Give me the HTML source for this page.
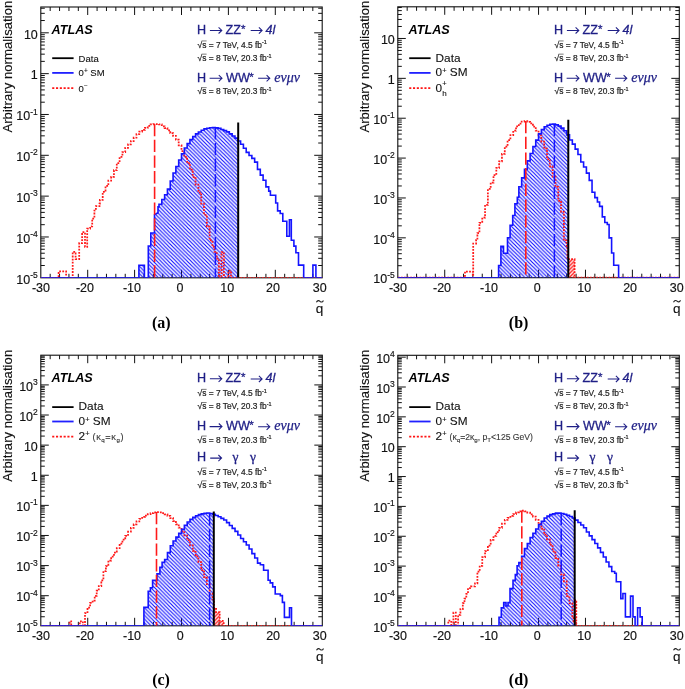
<!DOCTYPE html><html><head><meta charset="utf-8"><style>html,body{margin:0;padding:0;background:#fff;} svg{display:block;filter:blur(0.35px)} text{font-family:"Liberation Sans", sans-serif;} .tl{font-size:12.5px;fill:#111;stroke:#111;stroke-width:0.15px} .sup{font-size:8.5px} .ax{font-size:13.2px;fill:#111;stroke:#111;stroke-width:0.15px} .atlas{font-size:12.6px;font-weight:bold;font-style:italic;fill:#000} .plab{font-family:"Liberation Serif", serif;font-size:16px;font-weight:bold;fill:#000} .proc{font-size:12.6px;fill:#1f1f86;stroke:#1f1f86;stroke-width:0.3px} .lum{font-size:8.4px;fill:#222;stroke:#222;stroke-width:0.2px} .leg{font-size:9.5px;fill:#111;stroke:#111;stroke-width:0.1px} .legs{font-size:6.5px} .legb{font-size:11.8px;fill:#111;stroke:#111;stroke-width:0.12px} .legbs{font-size:7.5px} .lsup{font-size:5.5px} .psup{font-size:8px} .greek{font-family:"Liberation Serif", serif;font-style:italic;font-size:14px;fill:#1f1f86;stroke:#1f1f86;stroke-width:0.25px} .greek2{font-family:"Liberation Serif", serif;font-size:13.5px;fill:#1f1f86;stroke:#1f1f86;stroke-width:0.3px} .small{font-size:9.2px;fill:#444} .ssub{font-size:6.2px}</style></head><body>
<svg width="685" height="689" viewBox="0 0 685 689">
<defs><pattern id="hatchb" patternUnits="userSpaceOnUse" width="3.78" height="3.78" patternTransform="translate(0 2.14)"><path d="M-1 -1L4.78 4.78M-1 2.78L1 4.78M2.78 -1L4.78 1" stroke="#1010ff" stroke-width="1.15"/></pattern><pattern id="hatchr" patternUnits="userSpaceOnUse" width="3.78" height="3.78"><path d="M-1 4.78L4.78 -1M-1 1L1 -1M2.78 4.78L4.78 2.78" stroke="#ff1010" stroke-width="1.3"/></pattern></defs>
<path d="M50.18 277.80v-4M50.18 7.00v4M59.56 277.80v-4M59.56 7.00v4M68.94 277.80v-4M68.94 7.00v4M78.32 277.80v-4M78.32 7.00v4M87.70 277.80v-8M87.70 7.00v8M97.08 277.80v-4M97.08 7.00v4M106.46 277.80v-4M106.46 7.00v4M115.84 277.80v-4M115.84 7.00v4M125.22 277.80v-4M125.22 7.00v4M134.60 277.80v-8M134.60 7.00v8M143.98 277.80v-4M143.98 7.00v4M153.36 277.80v-4M153.36 7.00v4M162.74 277.80v-4M162.74 7.00v4M172.12 277.80v-4M172.12 7.00v4M181.50 277.80v-8M181.50 7.00v8M190.88 277.80v-4M190.88 7.00v4M200.26 277.80v-4M200.26 7.00v4M209.64 277.80v-4M209.64 7.00v4M219.02 277.80v-4M219.02 7.00v4M228.40 277.80v-8M228.40 7.00v8M237.78 277.80v-4M237.78 7.00v4M247.16 277.80v-4M247.16 7.00v4M256.54 277.80v-4M256.54 7.00v4M265.92 277.80v-4M265.92 7.00v4M275.30 277.80v-8M275.30 7.00v8M284.68 277.80v-4M284.68 7.00v4M294.06 277.80v-4M294.06 7.00v4M303.44 277.80v-4M303.44 7.00v4M312.82 277.80v-4M312.82 7.00v4M40.80 265.51h4M322.20 265.51h-4M40.80 258.32h4M322.20 258.32h-4M40.80 253.22h4M322.20 253.22h-4M40.80 249.26h4M322.20 249.26h-4M40.80 246.03h4M322.20 246.03h-4M40.80 243.29h4M322.20 243.29h-4M40.80 240.93h4M322.20 240.93h-4M40.80 238.84h4M322.20 238.84h-4M40.80 236.97h8M322.20 236.97h-8M40.80 224.68h4M322.20 224.68h-4M40.80 217.49h4M322.20 217.49h-4M40.80 212.39h4M322.20 212.39h-4M40.80 208.43h4M322.20 208.43h-4M40.80 205.20h4M322.20 205.20h-4M40.80 202.46h4M322.20 202.46h-4M40.80 200.10h4M322.20 200.10h-4M40.80 198.01h4M322.20 198.01h-4M40.80 196.14h8M322.20 196.14h-8M40.80 183.85h4M322.20 183.85h-4M40.80 176.66h4M322.20 176.66h-4M40.80 171.56h4M322.20 171.56h-4M40.80 167.60h4M322.20 167.60h-4M40.80 164.37h4M322.20 164.37h-4M40.80 161.63h4M322.20 161.63h-4M40.80 159.27h4M322.20 159.27h-4M40.80 157.18h4M322.20 157.18h-4M40.80 155.31h8M322.20 155.31h-8M40.80 143.02h4M322.20 143.02h-4M40.80 135.83h4M322.20 135.83h-4M40.80 130.73h4M322.20 130.73h-4M40.80 126.77h4M322.20 126.77h-4M40.80 123.54h4M322.20 123.54h-4M40.80 120.80h4M322.20 120.80h-4M40.80 118.44h4M322.20 118.44h-4M40.80 116.35h4M322.20 116.35h-4M40.80 114.48h8M322.20 114.48h-8M40.80 102.19h4M322.20 102.19h-4M40.80 95.00h4M322.20 95.00h-4M40.80 89.90h4M322.20 89.90h-4M40.80 85.94h4M322.20 85.94h-4M40.80 82.71h4M322.20 82.71h-4M40.80 79.97h4M322.20 79.97h-4M40.80 77.61h4M322.20 77.61h-4M40.80 75.52h4M322.20 75.52h-4M40.80 73.65h8M322.20 73.65h-8M40.80 61.36h4M322.20 61.36h-4M40.80 54.17h4M322.20 54.17h-4M40.80 49.07h4M322.20 49.07h-4M40.80 45.11h4M322.20 45.11h-4M40.80 41.88h4M322.20 41.88h-4M40.80 39.14h4M322.20 39.14h-4M40.80 36.78h4M322.20 36.78h-4M40.80 34.69h4M322.20 34.69h-4M40.80 32.82h8M322.20 32.82h-8M40.80 20.53h4M322.20 20.53h-4M40.80 13.34h4M322.20 13.34h-4M40.80 8.24h4M322.20 8.24h-4" stroke="#111" stroke-width="1" fill="none"/>
<rect x="40.80" y="7.00" width="281.40" height="270.80" stroke="#111" stroke-width="1.1" fill="none"/>
<text x="41.00" y="292.40" text-anchor="middle" class="tl">-30</text>
<text x="85.00" y="292.40" text-anchor="middle" class="tl">-20</text>
<text x="132.00" y="292.40" text-anchor="middle" class="tl">-10</text>
<text x="180.10" y="292.40" text-anchor="middle" class="tl">0</text>
<text x="227.20" y="292.40" text-anchor="middle" class="tl">10</text>
<text x="273.00" y="292.40" text-anchor="middle" class="tl">20</text>
<text x="319.70" y="292.40" text-anchor="middle" class="tl">30</text>
<text x="37.80" y="283.50" text-anchor="end" class="tl">10<tspan class="sup" dy="-5.6">-5</tspan></text>
<text x="37.80" y="242.67" text-anchor="end" class="tl">10<tspan class="sup" dy="-5.6">-4</tspan></text>
<text x="37.80" y="201.84" text-anchor="end" class="tl">10<tspan class="sup" dy="-5.6">-3</tspan></text>
<text x="37.80" y="161.01" text-anchor="end" class="tl">10<tspan class="sup" dy="-5.6">-2</tspan></text>
<text x="37.80" y="120.18" text-anchor="end" class="tl">10<tspan class="sup" dy="-5.6">-1</tspan></text>
<text x="37.80" y="79.35" text-anchor="end" class="tl">1</text>
<text x="37.80" y="38.52" text-anchor="end" class="tl">10</text>
<clipPath id="cla"><rect x="40.80" y="7.00" width="197.40" height="270.80"/></clipPath>
<clipPath id="cra"><rect x="238.20" y="7.00" width="84.00" height="270.80"/></clipPath>
<clipPath id="cfa"><rect x="40.80" y="7.00" width="281.40" height="270.80"/></clipPath>
<g clip-path="url(#cfa)">
<path d="M40.80 277.80L138.90 277.80L138.90 265.30L144.40 265.30L144.40 277.80L148.30 277.80L148.30 246.00L150.80 246.00L150.80 233.00L154.50 233.00L154.50 214.80L158.00 212.70L158.00 206.90L158.99 206.90L158.99 204.20L161.80 204.20L161.80 199.57L164.62 199.57L164.62 194.68L167.43 194.68L167.43 189.11L170.24 189.11L170.24 181.07L173.06 181.07L173.06 173.01L175.87 173.01L175.87 166.48L178.69 166.48L178.69 159.96L181.50 159.96L181.50 153.69L184.31 153.69L184.31 148.07L187.13 148.07L187.13 143.59L189.94 143.59L189.94 139.66L192.76 139.66L192.76 136.64L195.57 136.64L195.57 133.88L198.38 133.88L198.38 131.96L201.20 131.96L201.20 130.26L204.01 130.26L204.01 128.85L206.83 128.85L206.83 128.28L209.64 128.28L209.64 127.70L212.45 127.70L212.45 127.45L215.27 127.45L215.27 127.84L218.08 127.84L218.08 128.35L220.90 128.35L220.90 129.46L223.71 129.46L223.71 130.65L226.52 130.65L226.52 131.92L229.34 131.92L229.34 133.89L232.15 133.89L232.15 136.00L234.97 136.00L234.97 138.14L237.78 138.14L237.78 141.07L240.59 141.07L240.59 144.22L243.41 144.22L243.41 148.18L246.22 148.18L246.22 152.39L249.04 152.39L249.04 155.55L251.85 155.55L251.85 158.36L254.66 158.36L254.66 162.14L257.48 162.14L257.48 169.37L260.29 169.37L260.29 175.09L263.11 175.09L263.11 180.32L265.92 180.32L265.92 186.84L268.73 186.84L268.73 191.12L270.40 191.12L270.40 192.00L270.40 195.20L275.70 195.20L275.70 203.00L277.60 203.00L277.60 210.90L280.20 210.90L280.20 213.50L282.80 213.50L282.80 221.30L286.80 221.30L286.80 236.30L289.40 236.30L289.40 219.80L291.30 219.80L291.30 240.30L293.90 240.30L293.90 246.10L295.90 246.10L295.90 252.70L298.50 252.70L298.50 265.10L303.70 265.10L303.70 277.80L312.90 277.80L312.90 265.10L315.90 265.10L315.90 277.80L322.20 277.80L322.20 277.80L40.80 277.80Z" fill="url(#hatchb)" clip-path="url(#cla)"/>
<path d="M40.80 277.80L58.60 277.80L58.60 271.40L66.10 271.40L66.10 277.80L72.70 277.80L72.70 251.80L75.60 251.80L75.60 259.10L79.20 259.10L79.20 243.10L82.10 243.10L82.10 232.20L85.00 232.20L85.00 246.80L87.20 246.80L87.20 228.60L90.10 228.60L90.10 226.40L92.20 226.40L92.20 218.50L94.40 218.50L94.40 210.50L95.90 210.50L95.90 206.10L99.50 206.10L99.50 203.50L99.89 203.50L99.89 199.93L102.71 199.93L102.71 191.95L105.52 191.95L105.52 185.98L108.34 185.98L108.34 180.66L111.15 180.66L111.15 176.87L113.96 176.87L113.96 170.23L116.78 170.23L116.78 163.02L119.59 163.02L119.59 156.87L122.41 156.87L122.41 152.03L125.22 152.03L125.22 147.81L128.03 147.81L128.03 144.25L130.85 144.25L130.85 141.10L133.66 141.10L133.66 137.73L136.48 137.73L136.48 134.18L139.29 134.18L139.29 131.55L142.10 131.55L142.10 129.83L144.92 129.83L144.92 127.95L147.73 127.95L147.73 125.81L150.55 125.81L150.55 124.29L153.36 124.29L153.36 124.00L156.17 124.00L158.99 124.00L158.99 124.45L161.80 124.45L161.80 126.25L164.62 126.25L164.62 128.05L167.43 128.05L167.43 130.32L170.24 130.32L170.24 133.10L173.06 133.10L173.06 135.89L175.87 135.89L175.87 139.68L178.69 139.68L178.69 145.36L181.50 145.36L181.50 151.06L184.31 151.06L184.31 156.90L187.13 156.90L187.13 163.15L189.94 163.15L189.94 169.58L192.76 169.58L192.76 177.00L195.57 177.00L195.57 184.60L198.38 184.60L198.38 192.54L201.20 192.54L201.20 203.53L204.01 203.53L204.01 214.77L206.83 214.77L206.83 226.71L209.64 226.71L209.64 240.43L212.45 240.43L212.45 246.91L214.50 246.91L214.50 248.10L214.50 251.80L216.70 251.80L216.70 258.60L218.90 258.60L218.90 277.80L221.50 277.80L221.50 252.00L223.90 252.00L223.90 277.80L228.50 277.80L228.50 270.80L231.00 270.80L231.00 277.80L322.20 277.80L322.20 277.80L40.80 277.80Z" fill="url(#hatchr)" clip-path="url(#cra)"/>
<path d="M40.80 277.80L58.60 277.80L58.60 271.40L66.10 271.40L66.10 277.80L72.70 277.80L72.70 251.80L75.60 251.80L75.60 259.10L79.20 259.10L79.20 243.10L82.10 243.10L82.10 232.20L85.00 232.20L85.00 246.80L87.20 246.80L87.20 228.60L90.10 228.60L90.10 226.40L92.20 226.40L92.20 218.50L94.40 218.50L94.40 210.50L95.90 210.50L95.90 206.10L99.50 206.10L99.50 203.50L99.89 203.50L99.89 199.93L102.71 199.93L102.71 191.95L105.52 191.95L105.52 185.98L108.34 185.98L108.34 180.66L111.15 180.66L111.15 176.87L113.96 176.87L113.96 170.23L116.78 170.23L116.78 163.02L119.59 163.02L119.59 156.87L122.41 156.87L122.41 152.03L125.22 152.03L125.22 147.81L128.03 147.81L128.03 144.25L130.85 144.25L130.85 141.10L133.66 141.10L133.66 137.73L136.48 137.73L136.48 134.18L139.29 134.18L139.29 131.55L142.10 131.55L142.10 129.83L144.92 129.83L144.92 127.95L147.73 127.95L147.73 125.81L150.55 125.81L150.55 124.29L153.36 124.29L153.36 124.00L156.17 124.00L158.99 124.00L158.99 124.45L161.80 124.45L161.80 126.25L164.62 126.25L164.62 128.05L167.43 128.05L167.43 130.32L170.24 130.32L170.24 133.10L173.06 133.10L173.06 135.89L175.87 135.89L175.87 139.68L178.69 139.68L178.69 145.36L181.50 145.36L181.50 151.06L184.31 151.06L184.31 156.90L187.13 156.90L187.13 163.15L189.94 163.15L189.94 169.58L192.76 169.58L192.76 177.00L195.57 177.00L195.57 184.60L198.38 184.60L198.38 192.54L201.20 192.54L201.20 203.53L204.01 203.53L204.01 214.77L206.83 214.77L206.83 226.71L209.64 226.71L209.64 240.43L212.45 240.43L212.45 246.91L214.50 246.91L214.50 248.10L214.50 251.80L216.70 251.80L216.70 258.60L218.90 258.60L218.90 277.80L221.50 277.80L221.50 252.00L223.90 252.00L223.90 277.80L228.50 277.80L228.50 270.80L231.00 270.80L231.00 277.80L322.20 277.80" fill="none" stroke="#ff1a1a" stroke-width="1.75" stroke-dasharray="1.8 1.3"/>
<path d="M40.80 277.80L138.90 277.80L138.90 265.30L144.40 265.30L144.40 277.80L148.30 277.80L148.30 246.00L150.80 246.00L150.80 233.00L154.50 233.00L154.50 214.80L158.00 212.70L158.00 206.90L158.99 206.90L158.99 204.20L161.80 204.20L161.80 199.57L164.62 199.57L164.62 194.68L167.43 194.68L167.43 189.11L170.24 189.11L170.24 181.07L173.06 181.07L173.06 173.01L175.87 173.01L175.87 166.48L178.69 166.48L178.69 159.96L181.50 159.96L181.50 153.69L184.31 153.69L184.31 148.07L187.13 148.07L187.13 143.59L189.94 143.59L189.94 139.66L192.76 139.66L192.76 136.64L195.57 136.64L195.57 133.88L198.38 133.88L198.38 131.96L201.20 131.96L201.20 130.26L204.01 130.26L204.01 128.85L206.83 128.85L206.83 128.28L209.64 128.28L209.64 127.70L212.45 127.70L212.45 127.45L215.27 127.45L215.27 127.84L218.08 127.84L218.08 128.35L220.90 128.35L220.90 129.46L223.71 129.46L223.71 130.65L226.52 130.65L226.52 131.92L229.34 131.92L229.34 133.89L232.15 133.89L232.15 136.00L234.97 136.00L234.97 138.14L237.78 138.14L237.78 141.07L240.59 141.07L240.59 144.22L243.41 144.22L243.41 148.18L246.22 148.18L246.22 152.39L249.04 152.39L249.04 155.55L251.85 155.55L251.85 158.36L254.66 158.36L254.66 162.14L257.48 162.14L257.48 169.37L260.29 169.37L260.29 175.09L263.11 175.09L263.11 180.32L265.92 180.32L265.92 186.84L268.73 186.84L268.73 191.12L270.40 191.12L270.40 192.00L270.40 195.20L275.70 195.20L275.70 203.00L277.60 203.00L277.60 210.90L280.20 210.90L280.20 213.50L282.80 213.50L282.80 221.30L286.80 221.30L286.80 236.30L289.40 236.30L289.40 219.80L291.30 219.80L291.30 240.30L293.90 240.30L293.90 246.10L295.90 246.10L295.90 252.70L298.50 252.70L298.50 265.10L303.70 265.10L303.70 277.80L312.90 277.80L312.90 265.10L315.90 265.10L315.90 277.80L322.20 277.80" fill="none" stroke="#1414ff" stroke-width="1.6" stroke-linejoin="miter"/>
<path d="M154.60 124.00V277.80" stroke="#ff1a1a" stroke-width="1.6" stroke-dasharray="12.3 3.4"/>
<path d="M215.40 127.20V277.80" stroke="#1414ff" stroke-width="1.5" stroke-dasharray="12.3 3.4"/>
<path d="M238.20 277.80V122.40" stroke="#000" stroke-width="2"/>
</g>
<text class="plab" x="152.0" y="328.2">(a)</text>
<text class="ax" transform="translate(12.10 132.60) rotate(-90)">Arbitrary normalisation</text>
<text class="ax" x="319.60" y="312.60" text-anchor="middle" style="font-size:13.5px">q</text>
<path d="M316.40 302.30C317.60 300.10 319.00 300.40 320.00 301.30S322.40 302.60 323.40 300.40" stroke="#222" stroke-width="1.1" fill="none"/>
<text class="atlas" x="51.60" y="33.80">ATLAS</text>
<text x="197.00" y="33.80" class="proc">H</text>
<path d="M209.90 30.40H221.80M218.60 27.30L221.80 30.40L218.60 33.50" stroke="#1f1f86" stroke-width="1.05" fill="none"/>
<text x="225.60" y="33.80" class="proc">ZZ</text>
<text x="240.90" y="32.60" class="proc" style="font-size:11.5px">*</text>
<path d="M250.70 30.50H262.10M258.90 27.40L262.10 30.50L258.90 33.60" stroke="#1f1f86" stroke-width="1.05" fill="none"/>
<text x="265.60" y="33.80" class="proc" style="font-style:italic">4l</text>
<text x="197.60" y="47.70" class="lum">√s = 7 TeV, 4.5 fb<tspan class="lsup" dy="-3.4">-1</tspan></text><path d="M201.60 40.95h5.0" stroke="#333" stroke-width="0.65"/>
<text x="197.60" y="60.90" class="lum">√s = 8 TeV, 20.3 fb<tspan class="lsup" dy="-3.4">-1</tspan></text><path d="M201.60 54.15h5.0" stroke="#333" stroke-width="0.65"/>
<text x="197.00" y="81.50" class="proc">H</text>
<path d="M209.60 78.20H222.00M218.80 75.10L222.00 78.20L218.80 81.30" stroke="#1f1f86" stroke-width="1.05" fill="none"/>
<text x="226.00" y="81.50" class="proc">WW</text>
<text x="249.20" y="80.60" class="proc" style="font-size:11.5px">*</text>
<path d="M258.10 78.30H269.80M266.60 75.20L269.80 78.30L266.60 81.40" stroke="#1f1f86" stroke-width="1.05" fill="none"/>
<text x="274.30" y="81.50" class="greek">eνμν</text>
<text x="197.60" y="94.40" class="lum">√s = 8 TeV, 20.3 fb<tspan class="lsup" dy="-3.4">-1</tspan></text><path d="M201.60 87.65h5.0" stroke="#333" stroke-width="0.65"/>
<path d="M52.2 58.20H73.6" stroke="#000" stroke-width="1.8"/>
<path d="M52.2 72.90H73.6" stroke="#2020ff" stroke-width="1.8"/>
<path d="M52.2 88.20H73.6" stroke="#ff1414" stroke-width="1.7" stroke-dasharray="2.1 1.7"/>
<text x="78.60" y="61.90" class="leg">Data</text>
<text x="78.60" y="76.40" class="leg">0<tspan class="legs" dy="-3.5">+</tspan><tspan dy="3.5"> SM</tspan></text>
<text x="78.60" y="91.60" class="leg">0<tspan class="legs" dy="-3.5">−</tspan></text>
<path d="M407.18 277.70v-4M407.18 6.80v4M416.57 277.70v-4M416.57 6.80v4M425.95 277.70v-4M425.95 6.80v4M435.33 277.70v-4M435.33 6.80v4M444.72 277.70v-8M444.72 6.80v8M454.10 277.70v-4M454.10 6.80v4M463.48 277.70v-4M463.48 6.80v4M472.87 277.70v-4M472.87 6.80v4M482.25 277.70v-4M482.25 6.80v4M491.63 277.70v-8M491.63 6.80v8M501.02 277.70v-4M501.02 6.80v4M510.40 277.70v-4M510.40 6.80v4M519.78 277.70v-4M519.78 6.80v4M529.17 277.70v-4M529.17 6.80v4M538.55 277.70v-8M538.55 6.80v8M547.93 277.70v-4M547.93 6.80v4M557.32 277.70v-4M557.32 6.80v4M566.70 277.70v-4M566.70 6.80v4M576.08 277.70v-4M576.08 6.80v4M585.47 277.70v-8M585.47 6.80v8M594.85 277.70v-4M594.85 6.80v4M604.23 277.70v-4M604.23 6.80v4M613.62 277.70v-4M613.62 6.80v4M623.00 277.70v-4M623.00 6.80v4M632.38 277.70v-8M632.38 6.80v8M641.77 277.70v-4M641.77 6.80v4M651.15 277.70v-4M651.15 6.80v4M660.53 277.70v-4M660.53 6.80v4M669.92 277.70v-4M669.92 6.80v4M397.80 265.70h4M679.30 265.70h-4M397.80 258.68h4M679.30 258.68h-4M397.80 253.70h4M679.30 253.70h-4M397.80 249.83h4M679.30 249.83h-4M397.80 246.68h4M679.30 246.68h-4M397.80 244.01h4M679.30 244.01h-4M397.80 241.69h4M679.30 241.69h-4M397.80 239.65h4M679.30 239.65h-4M397.80 237.83h8M679.30 237.83h-8M397.80 225.83h4M679.30 225.83h-4M397.80 218.81h4M679.30 218.81h-4M397.80 213.83h4M679.30 213.83h-4M397.80 209.96h4M679.30 209.96h-4M397.80 206.81h4M679.30 206.81h-4M397.80 204.14h4M679.30 204.14h-4M397.80 201.82h4M679.30 201.82h-4M397.80 199.78h4M679.30 199.78h-4M397.80 197.96h8M679.30 197.96h-8M397.80 185.96h4M679.30 185.96h-4M397.80 178.94h4M679.30 178.94h-4M397.80 173.96h4M679.30 173.96h-4M397.80 170.09h4M679.30 170.09h-4M397.80 166.94h4M679.30 166.94h-4M397.80 164.27h4M679.30 164.27h-4M397.80 161.95h4M679.30 161.95h-4M397.80 159.91h4M679.30 159.91h-4M397.80 158.09h8M679.30 158.09h-8M397.80 146.09h4M679.30 146.09h-4M397.80 139.07h4M679.30 139.07h-4M397.80 134.09h4M679.30 134.09h-4M397.80 130.22h4M679.30 130.22h-4M397.80 127.07h4M679.30 127.07h-4M397.80 124.40h4M679.30 124.40h-4M397.80 122.08h4M679.30 122.08h-4M397.80 120.04h4M679.30 120.04h-4M397.80 118.22h8M679.30 118.22h-8M397.80 106.22h4M679.30 106.22h-4M397.80 99.20h4M679.30 99.20h-4M397.80 94.22h4M679.30 94.22h-4M397.80 90.35h4M679.30 90.35h-4M397.80 87.20h4M679.30 87.20h-4M397.80 84.53h4M679.30 84.53h-4M397.80 82.21h4M679.30 82.21h-4M397.80 80.17h4M679.30 80.17h-4M397.80 78.35h8M679.30 78.35h-8M397.80 66.35h4M679.30 66.35h-4M397.80 59.33h4M679.30 59.33h-4M397.80 54.35h4M679.30 54.35h-4M397.80 50.48h4M679.30 50.48h-4M397.80 47.33h4M679.30 47.33h-4M397.80 44.66h4M679.30 44.66h-4M397.80 42.34h4M679.30 42.34h-4M397.80 40.30h4M679.30 40.30h-4M397.80 38.48h8M679.30 38.48h-8M397.80 26.48h4M679.30 26.48h-4M397.80 19.46h4M679.30 19.46h-4M397.80 14.48h4M679.30 14.48h-4M397.80 10.61h4M679.30 10.61h-4M397.80 7.46h4M679.30 7.46h-4" stroke="#111" stroke-width="1" fill="none"/>
<rect x="397.80" y="6.80" width="281.50" height="270.90" stroke="#111" stroke-width="1.1" fill="none"/>
<text x="398.00" y="292.30" text-anchor="middle" class="tl">-30</text>
<text x="442.02" y="292.30" text-anchor="middle" class="tl">-20</text>
<text x="489.03" y="292.30" text-anchor="middle" class="tl">-10</text>
<text x="537.15" y="292.30" text-anchor="middle" class="tl">0</text>
<text x="584.27" y="292.30" text-anchor="middle" class="tl">10</text>
<text x="630.08" y="292.30" text-anchor="middle" class="tl">20</text>
<text x="676.80" y="292.30" text-anchor="middle" class="tl">30</text>
<text x="394.80" y="283.40" text-anchor="end" class="tl">10<tspan class="sup" dy="-5.6">-5</tspan></text>
<text x="394.80" y="243.53" text-anchor="end" class="tl">10<tspan class="sup" dy="-5.6">-4</tspan></text>
<text x="394.80" y="203.66" text-anchor="end" class="tl">10<tspan class="sup" dy="-5.6">-3</tspan></text>
<text x="394.80" y="163.79" text-anchor="end" class="tl">10<tspan class="sup" dy="-5.6">-2</tspan></text>
<text x="394.80" y="123.92" text-anchor="end" class="tl">10<tspan class="sup" dy="-5.6">-1</tspan></text>
<text x="394.80" y="84.05" text-anchor="end" class="tl">1</text>
<text x="394.80" y="44.18" text-anchor="end" class="tl">10</text>
<clipPath id="clb"><rect x="397.80" y="6.80" width="170.50" height="270.90"/></clipPath>
<clipPath id="crb"><rect x="568.30" y="6.80" width="111.00" height="270.90"/></clipPath>
<clipPath id="cfb"><rect x="397.80" y="6.80" width="281.50" height="270.90"/></clipPath>
<g clip-path="url(#cfb)">
<path d="M397.80 277.70L498.60 277.70L498.60 265.50L500.90 265.50L500.90 246.40L503.50 246.40L503.50 253.30L507.50 253.30L507.50 237.70L510.10 237.70L510.10 225.30L512.70 225.30L512.70 215.50L514.90 215.50L514.90 203.70L517.30 203.70L517.30 197.20L518.85 197.20L518.85 186.81L521.66 186.81L521.66 177.85L524.48 177.85L524.48 169.37L527.29 169.37L527.29 160.91L530.11 160.91L530.11 153.54L532.92 153.54L532.92 146.47L535.74 146.47L535.74 140.15L538.55 140.15L538.55 133.83L541.37 133.83L541.37 129.62L544.18 129.62L544.18 126.72L547.00 126.72L547.00 125.23L549.81 125.23L549.81 124.21L552.63 124.21L552.63 124.13L555.44 124.13L555.44 124.88L558.26 124.88L558.26 126.15L561.07 126.15L561.07 128.13L563.89 128.13L563.89 130.80L566.70 130.80L566.70 134.89L569.52 134.89L569.52 140.03L572.33 140.03L572.33 144.14L575.15 144.14L575.15 149.11L577.96 149.11L577.96 154.43L580.78 154.43L580.78 162.07L583.59 162.07L583.59 167.01L586.41 167.01L586.41 173.08L589.22 173.08L589.22 180.34L592.04 180.34L592.04 192.28L594.85 192.28L594.85 197.66L597.40 197.66L597.40 201.00L597.40 202.00L599.60 202.00L599.60 206.40L602.30 206.40L602.30 216.90L604.80 216.90L604.80 222.50L607.30 222.50L607.30 224.50L609.10 224.50L609.10 237.90L611.60 237.90L611.60 253.00L613.70 253.00L613.70 265.30L618.60 265.30L618.60 277.70L679.30 277.70L679.30 277.70L397.80 277.70Z" fill="url(#hatchb)" clip-path="url(#clb)"/>
<path d="M397.80 277.70L465.00 277.70L465.00 271.50L472.80 271.50L472.80 277.70L473.20 277.70L473.20 243.60L476.10 243.60L476.10 240.00L477.40 240.00L477.40 233.10L479.44 233.10L479.44 222.75L482.25 222.75L482.25 217.73L485.06 217.73L485.06 204.91L487.88 204.91L487.88 188.95L490.69 188.95L490.69 182.62L493.51 182.62L493.51 175.11L496.32 175.11L496.32 167.98L499.14 167.98L499.14 161.45L501.95 161.45L501.95 153.86L504.77 153.86L504.77 146.67L507.58 146.67L507.58 140.14L510.40 140.14L510.40 135.21L513.22 135.21L513.22 130.67L516.03 130.67L516.03 126.44L518.85 126.44L518.85 123.62L521.66 123.62L521.66 121.61L524.48 121.61L524.48 121.09L527.29 121.09L527.29 121.80L530.11 121.80L530.11 123.35L532.92 123.35L532.92 126.61L535.74 126.61L535.74 130.59L538.55 130.59L538.55 135.26L541.37 135.26L541.37 141.51L544.18 141.51L544.18 148.58L547.00 148.58L547.00 159.15L549.81 159.15L549.81 166.36L552.63 166.36L552.63 176.73L555.44 176.73L555.44 186.95L558.26 186.95L558.26 200.81L561.07 200.81L561.07 211.85L563.89 211.85L563.89 240.49L566.70 240.49L566.70 248.15L567.40 248.15L567.40 252.70L567.40 259.20L574.60 259.20L574.60 277.70L679.30 277.70L679.30 277.70L397.80 277.70Z" fill="url(#hatchr)" clip-path="url(#crb)"/>
<path d="M397.80 277.70L465.00 277.70L465.00 271.50L472.80 271.50L472.80 277.70L473.20 277.70L473.20 243.60L476.10 243.60L476.10 240.00L477.40 240.00L477.40 233.10L479.44 233.10L479.44 222.75L482.25 222.75L482.25 217.73L485.06 217.73L485.06 204.91L487.88 204.91L487.88 188.95L490.69 188.95L490.69 182.62L493.51 182.62L493.51 175.11L496.32 175.11L496.32 167.98L499.14 167.98L499.14 161.45L501.95 161.45L501.95 153.86L504.77 153.86L504.77 146.67L507.58 146.67L507.58 140.14L510.40 140.14L510.40 135.21L513.22 135.21L513.22 130.67L516.03 130.67L516.03 126.44L518.85 126.44L518.85 123.62L521.66 123.62L521.66 121.61L524.48 121.61L524.48 121.09L527.29 121.09L527.29 121.80L530.11 121.80L530.11 123.35L532.92 123.35L532.92 126.61L535.74 126.61L535.74 130.59L538.55 130.59L538.55 135.26L541.37 135.26L541.37 141.51L544.18 141.51L544.18 148.58L547.00 148.58L547.00 159.15L549.81 159.15L549.81 166.36L552.63 166.36L552.63 176.73L555.44 176.73L555.44 186.95L558.26 186.95L558.26 200.81L561.07 200.81L561.07 211.85L563.89 211.85L563.89 240.49L566.70 240.49L566.70 248.15L567.40 248.15L567.40 252.70L567.40 259.20L574.60 259.20L574.60 277.70L679.30 277.70" fill="none" stroke="#ff1a1a" stroke-width="1.75" stroke-dasharray="1.8 1.3"/>
<path d="M397.80 277.70L498.60 277.70L498.60 265.50L500.90 265.50L500.90 246.40L503.50 246.40L503.50 253.30L507.50 253.30L507.50 237.70L510.10 237.70L510.10 225.30L512.70 225.30L512.70 215.50L514.90 215.50L514.90 203.70L517.30 203.70L517.30 197.20L518.85 197.20L518.85 186.81L521.66 186.81L521.66 177.85L524.48 177.85L524.48 169.37L527.29 169.37L527.29 160.91L530.11 160.91L530.11 153.54L532.92 153.54L532.92 146.47L535.74 146.47L535.74 140.15L538.55 140.15L538.55 133.83L541.37 133.83L541.37 129.62L544.18 129.62L544.18 126.72L547.00 126.72L547.00 125.23L549.81 125.23L549.81 124.21L552.63 124.21L552.63 124.13L555.44 124.13L555.44 124.88L558.26 124.88L558.26 126.15L561.07 126.15L561.07 128.13L563.89 128.13L563.89 130.80L566.70 130.80L566.70 134.89L569.52 134.89L569.52 140.03L572.33 140.03L572.33 144.14L575.15 144.14L575.15 149.11L577.96 149.11L577.96 154.43L580.78 154.43L580.78 162.07L583.59 162.07L583.59 167.01L586.41 167.01L586.41 173.08L589.22 173.08L589.22 180.34L592.04 180.34L592.04 192.28L594.85 192.28L594.85 197.66L597.40 197.66L597.40 201.00L597.40 202.00L599.60 202.00L599.60 206.40L602.30 206.40L602.30 216.90L604.80 216.90L604.80 222.50L607.30 222.50L607.30 224.50L609.10 224.50L609.10 237.90L611.60 237.90L611.60 253.00L613.70 253.00L613.70 265.30L618.60 265.30L618.60 277.70L679.30 277.70" fill="none" stroke="#1414ff" stroke-width="1.6" stroke-linejoin="miter"/>
<path d="M525.80 121.00V277.70" stroke="#ff1a1a" stroke-width="1.6" stroke-dasharray="12.3 3.4"/>
<path d="M554.40 124.00V277.70" stroke="#1414ff" stroke-width="1.5" stroke-dasharray="12.3 3.4"/>
<path d="M568.30 277.70V119.80" stroke="#000" stroke-width="2"/>
</g>
<text class="plab" x="508.8" y="328.4">(b)</text>
<text class="ax" transform="translate(369.10 132.60) rotate(-90)">Arbitrary normalisation</text>
<text class="ax" x="676.70" y="312.50" text-anchor="middle" style="font-size:13.5px">q</text>
<path d="M673.50 302.20C674.70 300.00 676.10 300.30 677.10 301.20S679.50 302.50 680.50 300.30" stroke="#222" stroke-width="1.1" fill="none"/>
<text class="atlas" x="408.60" y="33.80">ATLAS</text>
<text x="554.00" y="33.80" class="proc">H</text>
<path d="M566.90 30.40H578.80M575.60 27.30L578.80 30.40L575.60 33.50" stroke="#1f1f86" stroke-width="1.05" fill="none"/>
<text x="582.60" y="33.80" class="proc">ZZ</text>
<text x="597.90" y="32.60" class="proc" style="font-size:11.5px">*</text>
<path d="M607.70 30.50H619.10M615.90 27.40L619.10 30.50L615.90 33.60" stroke="#1f1f86" stroke-width="1.05" fill="none"/>
<text x="622.60" y="33.80" class="proc" style="font-style:italic">4l</text>
<text x="554.60" y="47.70" class="lum">√s = 7 TeV, 4.5 fb<tspan class="lsup" dy="-3.4">-1</tspan></text><path d="M558.60 40.95h5.0" stroke="#333" stroke-width="0.65"/>
<text x="554.60" y="60.90" class="lum">√s = 8 TeV, 20.3 fb<tspan class="lsup" dy="-3.4">-1</tspan></text><path d="M558.60 54.15h5.0" stroke="#333" stroke-width="0.65"/>
<text x="554.00" y="81.50" class="proc">H</text>
<path d="M566.60 78.20H579.00M575.80 75.10L579.00 78.20L575.80 81.30" stroke="#1f1f86" stroke-width="1.05" fill="none"/>
<text x="583.00" y="81.50" class="proc">WW</text>
<text x="606.20" y="80.60" class="proc" style="font-size:11.5px">*</text>
<path d="M615.10 78.30H626.80M623.60 75.20L626.80 78.30L623.60 81.40" stroke="#1f1f86" stroke-width="1.05" fill="none"/>
<text x="631.30" y="81.50" class="greek">eνμν</text>
<text x="554.60" y="94.40" class="lum">√s = 8 TeV, 20.3 fb<tspan class="lsup" dy="-3.4">-1</tspan></text><path d="M558.60 87.65h5.0" stroke="#333" stroke-width="0.65"/>
<path d="M409.2 58.20H430.6" stroke="#000" stroke-width="1.8"/>
<path d="M409.2 72.90H430.6" stroke="#2020ff" stroke-width="1.8"/>
<path d="M409.2 88.20H430.6" stroke="#ff1414" stroke-width="1.7" stroke-dasharray="2.1 1.7"/>
<text x="435.60" y="61.90" class="legb">Data</text>
<text x="435.60" y="76.40" class="legb">0<tspan class="legbs" dy="-3.5">+</tspan><tspan dy="3.5"> SM</tspan></text>
<text x="435.60" y="91.60" class="legb">0<tspan class="legbs" dy="-5.2">+</tspan><tspan style="font-size:8px" dx="-4.3" dy="9.6">h</tspan></text>
<path d="M50.18 625.80v-4M50.18 355.20v4M59.57 625.80v-4M59.57 355.20v4M68.95 625.80v-4M68.95 355.20v4M78.33 625.80v-4M78.33 355.20v4M87.72 625.80v-8M87.72 355.20v8M97.10 625.80v-4M97.10 355.20v4M106.48 625.80v-4M106.48 355.20v4M115.87 625.80v-4M115.87 355.20v4M125.25 625.80v-4M125.25 355.20v4M134.63 625.80v-8M134.63 355.20v8M144.02 625.80v-4M144.02 355.20v4M153.40 625.80v-4M153.40 355.20v4M162.78 625.80v-4M162.78 355.20v4M172.17 625.80v-4M172.17 355.20v4M181.55 625.80v-8M181.55 355.20v8M190.93 625.80v-4M190.93 355.20v4M200.32 625.80v-4M200.32 355.20v4M209.70 625.80v-4M209.70 355.20v4M219.08 625.80v-4M219.08 355.20v4M228.47 625.80v-8M228.47 355.20v8M237.85 625.80v-4M237.85 355.20v4M247.23 625.80v-4M247.23 355.20v4M256.62 625.80v-4M256.62 355.20v4M266.00 625.80v-4M266.00 355.20v4M275.38 625.80v-8M275.38 355.20v8M284.77 625.80v-4M284.77 355.20v4M294.15 625.80v-4M294.15 355.20v4M303.53 625.80v-4M303.53 355.20v4M312.92 625.80v-4M312.92 355.20v4M40.80 616.74h4M322.30 616.74h-4M40.80 611.43h4M322.30 611.43h-4M40.80 607.67h4M322.30 607.67h-4M40.80 604.75h4M322.30 604.75h-4M40.80 602.37h4M322.30 602.37h-4M40.80 600.35h4M322.30 600.35h-4M40.80 598.61h4M322.30 598.61h-4M40.80 597.07h4M322.30 597.07h-4M40.80 595.69h8M322.30 595.69h-8M40.80 586.63h4M322.30 586.63h-4M40.80 581.32h4M322.30 581.32h-4M40.80 577.56h4M322.30 577.56h-4M40.80 574.64h4M322.30 574.64h-4M40.80 572.26h4M322.30 572.26h-4M40.80 570.24h4M322.30 570.24h-4M40.80 568.50h4M322.30 568.50h-4M40.80 566.96h4M322.30 566.96h-4M40.80 565.58h8M322.30 565.58h-8M40.80 556.52h4M322.30 556.52h-4M40.80 551.21h4M322.30 551.21h-4M40.80 547.45h4M322.30 547.45h-4M40.80 544.53h4M322.30 544.53h-4M40.80 542.15h4M322.30 542.15h-4M40.80 540.13h4M322.30 540.13h-4M40.80 538.39h4M322.30 538.39h-4M40.80 536.85h4M322.30 536.85h-4M40.80 535.47h8M322.30 535.47h-8M40.80 526.41h4M322.30 526.41h-4M40.80 521.10h4M322.30 521.10h-4M40.80 517.34h4M322.30 517.34h-4M40.80 514.42h4M322.30 514.42h-4M40.80 512.04h4M322.30 512.04h-4M40.80 510.02h4M322.30 510.02h-4M40.80 508.28h4M322.30 508.28h-4M40.80 506.74h4M322.30 506.74h-4M40.80 505.36h8M322.30 505.36h-8M40.80 496.30h4M322.30 496.30h-4M40.80 490.99h4M322.30 490.99h-4M40.80 487.23h4M322.30 487.23h-4M40.80 484.31h4M322.30 484.31h-4M40.80 481.93h4M322.30 481.93h-4M40.80 479.91h4M322.30 479.91h-4M40.80 478.17h4M322.30 478.17h-4M40.80 476.63h4M322.30 476.63h-4M40.80 475.25h8M322.30 475.25h-8M40.80 466.19h4M322.30 466.19h-4M40.80 460.88h4M322.30 460.88h-4M40.80 457.12h4M322.30 457.12h-4M40.80 454.20h4M322.30 454.20h-4M40.80 451.82h4M322.30 451.82h-4M40.80 449.80h4M322.30 449.80h-4M40.80 448.06h4M322.30 448.06h-4M40.80 446.52h4M322.30 446.52h-4M40.80 445.14h8M322.30 445.14h-8M40.80 436.08h4M322.30 436.08h-4M40.80 430.77h4M322.30 430.77h-4M40.80 427.01h4M322.30 427.01h-4M40.80 424.09h4M322.30 424.09h-4M40.80 421.71h4M322.30 421.71h-4M40.80 419.69h4M322.30 419.69h-4M40.80 417.95h4M322.30 417.95h-4M40.80 416.41h4M322.30 416.41h-4M40.80 415.03h8M322.30 415.03h-8M40.80 405.97h4M322.30 405.97h-4M40.80 400.66h4M322.30 400.66h-4M40.80 396.90h4M322.30 396.90h-4M40.80 393.98h4M322.30 393.98h-4M40.80 391.60h4M322.30 391.60h-4M40.80 389.58h4M322.30 389.58h-4M40.80 387.84h4M322.30 387.84h-4M40.80 386.30h4M322.30 386.30h-4M40.80 384.92h8M322.30 384.92h-8M40.80 375.86h4M322.30 375.86h-4M40.80 370.55h4M322.30 370.55h-4M40.80 366.79h4M322.30 366.79h-4M40.80 363.87h4M322.30 363.87h-4M40.80 361.49h4M322.30 361.49h-4M40.80 359.47h4M322.30 359.47h-4M40.80 357.73h4M322.30 357.73h-4M40.80 356.19h4M322.30 356.19h-4" stroke="#111" stroke-width="1" fill="none"/>
<rect x="40.80" y="355.20" width="281.50" height="270.60" stroke="#111" stroke-width="1.1" fill="none"/>
<text x="41.00" y="640.40" text-anchor="middle" class="tl">-30</text>
<text x="85.02" y="640.40" text-anchor="middle" class="tl">-20</text>
<text x="132.03" y="640.40" text-anchor="middle" class="tl">-10</text>
<text x="180.15" y="640.40" text-anchor="middle" class="tl">0</text>
<text x="227.27" y="640.40" text-anchor="middle" class="tl">10</text>
<text x="273.08" y="640.40" text-anchor="middle" class="tl">20</text>
<text x="319.80" y="640.40" text-anchor="middle" class="tl">30</text>
<text x="37.80" y="631.50" text-anchor="end" class="tl">10<tspan class="sup" dy="-5.6">-5</tspan></text>
<text x="37.80" y="601.39" text-anchor="end" class="tl">10<tspan class="sup" dy="-5.6">-4</tspan></text>
<text x="37.80" y="571.28" text-anchor="end" class="tl">10<tspan class="sup" dy="-5.6">-3</tspan></text>
<text x="37.80" y="541.17" text-anchor="end" class="tl">10<tspan class="sup" dy="-5.6">-2</tspan></text>
<text x="37.80" y="511.06" text-anchor="end" class="tl">10<tspan class="sup" dy="-5.6">-1</tspan></text>
<text x="37.80" y="480.95" text-anchor="end" class="tl">1</text>
<text x="37.80" y="450.84" text-anchor="end" class="tl">10</text>
<text x="37.80" y="420.73" text-anchor="end" class="tl">10<tspan class="sup" dy="-5.6">2</tspan></text>
<text x="37.80" y="390.62" text-anchor="end" class="tl">10<tspan class="sup" dy="-5.6">3</tspan></text>
<clipPath id="clc"><rect x="40.80" y="355.20" width="173.00" height="270.60"/></clipPath>
<clipPath id="crc"><rect x="213.80" y="355.20" width="108.50" height="270.60"/></clipPath>
<clipPath id="cfc"><rect x="40.80" y="355.20" width="281.50" height="270.60"/></clipPath>
<g clip-path="url(#cfc)">
<path d="M40.80 625.80L143.90 625.80L143.90 607.40L148.20 607.40L148.20 591.40L150.40 591.40L150.40 587.70L152.60 587.70L152.60 580.40L157.00 580.40L157.00 573.90L159.90 573.90L159.90 567.30L162.10 567.30L162.10 562.20L164.30 562.20L164.66 562.20L164.66 559.57L167.47 559.57L167.47 552.62L170.29 552.62L170.29 545.76L173.10 545.76L173.10 540.95L175.92 540.95L175.92 537.16L178.73 537.16L178.73 533.34L181.55 533.34L181.55 529.27L184.36 529.27L184.36 525.38L187.18 525.38L187.18 521.96L189.99 521.96L189.99 519.41L192.81 519.41L192.81 517.33L195.62 517.33L195.62 515.82L198.44 515.82L198.44 514.58L201.25 514.58L201.25 513.83L204.07 513.83L204.07 513.29L206.88 513.29L206.88 513.02L209.70 513.02L209.70 513.55L212.51 513.55L212.51 514.37L215.33 514.37L215.33 515.43L218.14 515.43L218.14 516.72L220.96 516.72L220.96 518.38L223.77 518.38L223.77 520.06L226.59 520.06L226.59 522.64L229.40 522.64L229.40 525.50L232.22 525.50L232.22 528.33L235.03 528.33L235.03 531.33L237.85 531.33L237.85 535.00L240.66 535.00L240.66 538.44L243.48 538.44L243.48 541.71L246.29 541.71L246.29 544.97L249.11 544.97L249.11 549.02L251.92 549.02L251.92 553.65L254.74 553.65L254.74 557.97L257.55 557.97L257.55 563.10L260.37 563.10L260.37 564.79L263.18 564.79L263.18 565.07L263.60 565.07L263.60 565.10L263.60 570.20L268.10 570.20L268.10 580.30L270.20 580.30L270.20 582.90L272.70 582.90L272.70 586.90L275.20 586.90L275.20 594.00L280.30 594.00L280.30 595.60L282.40 595.60L282.40 602.40L284.40 602.40L284.40 617.40L289.50 617.40L289.50 607.80L291.50 607.80L291.50 625.80L322.30 625.80L322.30 625.80L40.80 625.80Z" fill="url(#hatchb)" clip-path="url(#clc)"/>
<path d="M40.80 625.80L69.60 625.80L69.60 621.30L71.20 621.30L71.20 625.80L79.80 625.80L79.80 621.30L82.90 621.30L82.90 625.80L85.00 625.80L85.00 613.10L87.50 613.10L87.50 607.50L90.10 607.50L90.10 602.90L92.60 602.90L92.60 600.50L94.70 600.50L94.70 595.80L96.70 595.80L96.70 590.70L98.80 590.70L98.80 586.10L101.30 586.10L101.30 580.40L103.40 580.40L103.40 571.20L105.90 571.20L105.90 566.10L108.36 566.10L108.36 560.52L111.17 560.52L111.17 556.71L113.99 556.71L113.99 552.72L116.80 552.72L116.80 548.18L119.62 548.18L119.62 543.69L122.43 543.69L122.43 539.74L125.25 539.74L125.25 535.96L128.06 535.96L128.06 531.74L130.88 531.74L130.88 527.90L133.69 527.90L133.69 524.36L136.51 524.36L136.51 521.35L139.32 521.35L139.32 518.88L142.14 518.88L142.14 516.88L144.95 516.88L144.95 515.50L147.77 515.50L147.77 514.11L150.58 514.11L150.58 513.21L153.40 513.21L153.40 512.40L156.21 512.40L156.21 512.07L159.03 512.07L159.03 512.33L161.84 512.33L161.84 513.16L164.66 513.16L164.66 514.31L167.47 514.31L167.47 515.75L170.29 515.75L170.29 518.08L173.10 518.08L173.10 521.01L175.92 521.01L175.92 524.30L178.73 524.30L178.73 527.71L181.55 527.71L181.55 531.13L184.36 531.13L184.36 535.31L187.18 535.31L187.18 540.06L189.99 540.06L189.99 545.30L192.81 545.30L192.81 550.83L195.62 550.83L195.62 556.46L198.44 556.46L198.44 562.09L201.25 562.09L201.25 570.13L204.07 570.13L204.07 577.06L206.88 577.06L206.88 584.15L209.70 584.15L209.70 593.56L212.51 593.56L212.51 599.42L214.00 599.42L214.00 600.50L214.00 608.00L216.10 608.00L216.10 612.10L219.70 612.10L219.70 620.90L223.70 620.90L223.70 625.80L322.30 625.80L322.30 625.80L40.80 625.80Z" fill="url(#hatchr)" clip-path="url(#crc)"/>
<path d="M40.80 625.80L69.60 625.80L69.60 621.30L71.20 621.30L71.20 625.80L79.80 625.80L79.80 621.30L82.90 621.30L82.90 625.80L85.00 625.80L85.00 613.10L87.50 613.10L87.50 607.50L90.10 607.50L90.10 602.90L92.60 602.90L92.60 600.50L94.70 600.50L94.70 595.80L96.70 595.80L96.70 590.70L98.80 590.70L98.80 586.10L101.30 586.10L101.30 580.40L103.40 580.40L103.40 571.20L105.90 571.20L105.90 566.10L108.36 566.10L108.36 560.52L111.17 560.52L111.17 556.71L113.99 556.71L113.99 552.72L116.80 552.72L116.80 548.18L119.62 548.18L119.62 543.69L122.43 543.69L122.43 539.74L125.25 539.74L125.25 535.96L128.06 535.96L128.06 531.74L130.88 531.74L130.88 527.90L133.69 527.90L133.69 524.36L136.51 524.36L136.51 521.35L139.32 521.35L139.32 518.88L142.14 518.88L142.14 516.88L144.95 516.88L144.95 515.50L147.77 515.50L147.77 514.11L150.58 514.11L150.58 513.21L153.40 513.21L153.40 512.40L156.21 512.40L156.21 512.07L159.03 512.07L159.03 512.33L161.84 512.33L161.84 513.16L164.66 513.16L164.66 514.31L167.47 514.31L167.47 515.75L170.29 515.75L170.29 518.08L173.10 518.08L173.10 521.01L175.92 521.01L175.92 524.30L178.73 524.30L178.73 527.71L181.55 527.71L181.55 531.13L184.36 531.13L184.36 535.31L187.18 535.31L187.18 540.06L189.99 540.06L189.99 545.30L192.81 545.30L192.81 550.83L195.62 550.83L195.62 556.46L198.44 556.46L198.44 562.09L201.25 562.09L201.25 570.13L204.07 570.13L204.07 577.06L206.88 577.06L206.88 584.15L209.70 584.15L209.70 593.56L212.51 593.56L212.51 599.42L214.00 599.42L214.00 600.50L214.00 608.00L216.10 608.00L216.10 612.10L219.70 612.10L219.70 620.90L223.70 620.90L223.70 625.80L322.30 625.80" fill="none" stroke="#ff1a1a" stroke-width="1.75" stroke-dasharray="1.8 1.3"/>
<path d="M40.80 625.80L143.90 625.80L143.90 607.40L148.20 607.40L148.20 591.40L150.40 591.40L150.40 587.70L152.60 587.70L152.60 580.40L157.00 580.40L157.00 573.90L159.90 573.90L159.90 567.30L162.10 567.30L162.10 562.20L164.30 562.20L164.66 562.20L164.66 559.57L167.47 559.57L167.47 552.62L170.29 552.62L170.29 545.76L173.10 545.76L173.10 540.95L175.92 540.95L175.92 537.16L178.73 537.16L178.73 533.34L181.55 533.34L181.55 529.27L184.36 529.27L184.36 525.38L187.18 525.38L187.18 521.96L189.99 521.96L189.99 519.41L192.81 519.41L192.81 517.33L195.62 517.33L195.62 515.82L198.44 515.82L198.44 514.58L201.25 514.58L201.25 513.83L204.07 513.83L204.07 513.29L206.88 513.29L206.88 513.02L209.70 513.02L209.70 513.55L212.51 513.55L212.51 514.37L215.33 514.37L215.33 515.43L218.14 515.43L218.14 516.72L220.96 516.72L220.96 518.38L223.77 518.38L223.77 520.06L226.59 520.06L226.59 522.64L229.40 522.64L229.40 525.50L232.22 525.50L232.22 528.33L235.03 528.33L235.03 531.33L237.85 531.33L237.85 535.00L240.66 535.00L240.66 538.44L243.48 538.44L243.48 541.71L246.29 541.71L246.29 544.97L249.11 544.97L249.11 549.02L251.92 549.02L251.92 553.65L254.74 553.65L254.74 557.97L257.55 557.97L257.55 563.10L260.37 563.10L260.37 564.79L263.18 564.79L263.18 565.07L263.60 565.07L263.60 565.10L263.60 570.20L268.10 570.20L268.10 580.30L270.20 580.30L270.20 582.90L272.70 582.90L272.70 586.90L275.20 586.90L275.20 594.00L280.30 594.00L280.30 595.60L282.40 595.60L282.40 602.40L284.40 602.40L284.40 617.40L289.50 617.40L289.50 607.80L291.50 607.80L291.50 625.80L322.30 625.80" fill="none" stroke="#1414ff" stroke-width="1.6" stroke-linejoin="miter"/>
<path d="M156.50 512.00V625.80" stroke="#ff1a1a" stroke-width="1.6" stroke-dasharray="12.3 3.4"/>
<path d="M209.60 513.40V625.80" stroke="#1414ff" stroke-width="1.5" stroke-dasharray="12.3 3.4"/>
<path d="M213.80 625.80V511.40" stroke="#000" stroke-width="2"/>
</g>
<text class="plab" x="152.2" y="685.2">(c)</text>
<text class="ax" transform="translate(12.10 481.70) rotate(-90)">Arbitrary normalisation</text>
<text class="ax" x="319.70" y="660.60" text-anchor="middle" style="font-size:13.5px">q</text>
<path d="M316.50 650.30C317.70 648.10 319.10 648.40 320.10 649.30S322.50 650.60 323.50 648.40" stroke="#222" stroke-width="1.1" fill="none"/>
<text class="atlas" x="51.60" y="382.20">ATLAS</text>
<text x="197.00" y="382.20" class="proc">H</text>
<path d="M209.90 378.80H221.80M218.60 375.70L221.80 378.80L218.60 381.90" stroke="#1f1f86" stroke-width="1.05" fill="none"/>
<text x="225.60" y="382.20" class="proc">ZZ</text>
<text x="240.90" y="381.00" class="proc" style="font-size:11.5px">*</text>
<path d="M250.70 378.90H262.10M258.90 375.80L262.10 378.90L258.90 382.00" stroke="#1f1f86" stroke-width="1.05" fill="none"/>
<text x="265.60" y="382.20" class="proc" style="font-style:italic">4l</text>
<text x="197.60" y="396.10" class="lum">√s = 7 TeV, 4.5 fb<tspan class="lsup" dy="-3.4">-1</tspan></text><path d="M201.60 389.35h5.0" stroke="#333" stroke-width="0.65"/>
<text x="197.60" y="409.30" class="lum">√s = 8 TeV, 20.3 fb<tspan class="lsup" dy="-3.4">-1</tspan></text><path d="M201.60 402.55h5.0" stroke="#333" stroke-width="0.65"/>
<text x="197.00" y="429.90" class="proc">H</text>
<path d="M209.60 426.60H222.00M218.80 423.50L222.00 426.60L218.80 429.70" stroke="#1f1f86" stroke-width="1.05" fill="none"/>
<text x="226.00" y="429.90" class="proc">WW</text>
<text x="249.20" y="429.00" class="proc" style="font-size:11.5px">*</text>
<path d="M258.10 426.70H269.80M266.60 423.60L269.80 426.70L266.60 429.80" stroke="#1f1f86" stroke-width="1.05" fill="none"/>
<text x="274.30" y="429.90" class="greek">eνμν</text>
<text x="197.60" y="442.80" class="lum">√s = 8 TeV, 20.3 fb<tspan class="lsup" dy="-3.4">-1</tspan></text><path d="M201.60 436.05h5.0" stroke="#333" stroke-width="0.65"/>
<text x="197.00" y="461.40" class="proc">H</text>
<path d="M210.20 458.10H221.60M218.40 455.00L221.60 458.10L218.40 461.20" stroke="#1f1f86" stroke-width="1.05" fill="none"/>
<text x="232.60" y="461.40" class="greek2">γ</text>
<text x="250.10" y="461.40" class="greek2">γ</text>
<text x="197.60" y="474.80" class="lum">√s = 7 TeV, 4.5 fb<tspan class="lsup" dy="-3.4">-1</tspan></text><path d="M201.60 468.05h5.0" stroke="#333" stroke-width="0.65"/>
<text x="197.60" y="487.60" class="lum">√s = 8 TeV, 20.3 fb<tspan class="lsup" dy="-3.4">-1</tspan></text><path d="M201.60 480.85h5.0" stroke="#333" stroke-width="0.65"/>
<path d="M52.2 407.10H73.6" stroke="#000" stroke-width="1.8"/>
<path d="M52.2 421.50H73.6" stroke="#2020ff" stroke-width="1.8"/>
<path d="M52.2 436.60H73.6" stroke="#ff1414" stroke-width="1.7" stroke-dasharray="2.1 1.7"/>
<text x="78.60" y="410.40" class="legb">Data</text>
<text x="78.60" y="425.20" class="legb">0<tspan class="legbs" dy="-3.5">+</tspan><tspan dy="3.5"> SM</tspan></text>
<text x="78.60" y="440.20" class="legb">2<tspan class="legbs" dy="-4.5">+</tspan><tspan class="small" dx="3" dy="4.5" style="letter-spacing:0.55px">(κ<tspan class="ssub" dy="2">q</tspan><tspan dy="-2">=κ</tspan><tspan class="ssub" dy="2">g</tspan><tspan dy="-2">)</tspan></tspan></text>
<path d="M407.18 625.80v-4M407.18 355.30v4M416.57 625.80v-4M416.57 355.30v4M425.95 625.80v-4M425.95 355.30v4M435.33 625.80v-4M435.33 355.30v4M444.72 625.80v-8M444.72 355.30v8M454.10 625.80v-4M454.10 355.30v4M463.48 625.80v-4M463.48 355.30v4M472.87 625.80v-4M472.87 355.30v4M482.25 625.80v-4M482.25 355.30v4M491.63 625.80v-8M491.63 355.30v8M501.02 625.80v-4M501.02 355.30v4M510.40 625.80v-4M510.40 355.30v4M519.78 625.80v-4M519.78 355.30v4M529.17 625.80v-4M529.17 355.30v4M538.55 625.80v-8M538.55 355.30v8M547.93 625.80v-4M547.93 355.30v4M557.32 625.80v-4M557.32 355.30v4M566.70 625.80v-4M566.70 355.30v4M576.08 625.80v-4M576.08 355.30v4M585.47 625.80v-8M585.47 355.30v8M594.85 625.80v-4M594.85 355.30v4M604.23 625.80v-4M604.23 355.30v4M613.62 625.80v-4M613.62 355.30v4M623.00 625.80v-4M623.00 355.30v4M632.38 625.80v-8M632.38 355.30v8M641.77 625.80v-4M641.77 355.30v4M651.15 625.80v-4M651.15 355.30v4M660.53 625.80v-4M660.53 355.30v4M669.92 625.80v-4M669.92 355.30v4M397.80 616.81h4M679.30 616.81h-4M397.80 611.56h4M679.30 611.56h-4M397.80 607.83h4M679.30 607.83h-4M397.80 604.94h4M679.30 604.94h-4M397.80 602.57h4M679.30 602.57h-4M397.80 600.57h4M679.30 600.57h-4M397.80 598.84h4M679.30 598.84h-4M397.80 597.32h4M679.30 597.32h-4M397.80 595.95h8M679.30 595.95h-8M397.80 586.96h4M679.30 586.96h-4M397.80 581.71h4M679.30 581.71h-4M397.80 577.98h4M679.30 577.98h-4M397.80 575.09h4M679.30 575.09h-4M397.80 572.72h4M679.30 572.72h-4M397.80 570.72h4M679.30 570.72h-4M397.80 568.99h4M679.30 568.99h-4M397.80 567.47h4M679.30 567.47h-4M397.80 566.10h8M679.30 566.10h-8M397.80 557.11h4M679.30 557.11h-4M397.80 551.86h4M679.30 551.86h-4M397.80 548.13h4M679.30 548.13h-4M397.80 545.24h4M679.30 545.24h-4M397.80 542.87h4M679.30 542.87h-4M397.80 540.87h4M679.30 540.87h-4M397.80 539.14h4M679.30 539.14h-4M397.80 537.62h4M679.30 537.62h-4M397.80 536.25h8M679.30 536.25h-8M397.80 527.26h4M679.30 527.26h-4M397.80 522.01h4M679.30 522.01h-4M397.80 518.28h4M679.30 518.28h-4M397.80 515.39h4M679.30 515.39h-4M397.80 513.02h4M679.30 513.02h-4M397.80 511.02h4M679.30 511.02h-4M397.80 509.29h4M679.30 509.29h-4M397.80 507.77h4M679.30 507.77h-4M397.80 506.40h8M679.30 506.40h-8M397.80 497.41h4M679.30 497.41h-4M397.80 492.16h4M679.30 492.16h-4M397.80 488.43h4M679.30 488.43h-4M397.80 485.54h4M679.30 485.54h-4M397.80 483.17h4M679.30 483.17h-4M397.80 481.17h4M679.30 481.17h-4M397.80 479.44h4M679.30 479.44h-4M397.80 477.92h4M679.30 477.92h-4M397.80 476.55h8M679.30 476.55h-8M397.80 467.56h4M679.30 467.56h-4M397.80 462.31h4M679.30 462.31h-4M397.80 458.58h4M679.30 458.58h-4M397.80 455.69h4M679.30 455.69h-4M397.80 453.32h4M679.30 453.32h-4M397.80 451.32h4M679.30 451.32h-4M397.80 449.59h4M679.30 449.59h-4M397.80 448.07h4M679.30 448.07h-4M397.80 446.70h8M679.30 446.70h-8M397.80 437.71h4M679.30 437.71h-4M397.80 432.46h4M679.30 432.46h-4M397.80 428.73h4M679.30 428.73h-4M397.80 425.84h4M679.30 425.84h-4M397.80 423.47h4M679.30 423.47h-4M397.80 421.47h4M679.30 421.47h-4M397.80 419.74h4M679.30 419.74h-4M397.80 418.22h4M679.30 418.22h-4M397.80 416.85h8M679.30 416.85h-8M397.80 407.86h4M679.30 407.86h-4M397.80 402.61h4M679.30 402.61h-4M397.80 398.88h4M679.30 398.88h-4M397.80 395.99h4M679.30 395.99h-4M397.80 393.62h4M679.30 393.62h-4M397.80 391.62h4M679.30 391.62h-4M397.80 389.89h4M679.30 389.89h-4M397.80 388.37h4M679.30 388.37h-4M397.80 387.00h8M679.30 387.00h-8M397.80 378.01h4M679.30 378.01h-4M397.80 372.76h4M679.30 372.76h-4M397.80 369.03h4M679.30 369.03h-4M397.80 366.14h4M679.30 366.14h-4M397.80 363.77h4M679.30 363.77h-4M397.80 361.77h4M679.30 361.77h-4M397.80 360.04h4M679.30 360.04h-4M397.80 358.52h4M679.30 358.52h-4M397.80 357.15h8M679.30 357.15h-8" stroke="#111" stroke-width="1" fill="none"/>
<rect x="397.80" y="355.30" width="281.50" height="270.50" stroke="#111" stroke-width="1.1" fill="none"/>
<text x="398.00" y="640.40" text-anchor="middle" class="tl">-30</text>
<text x="442.02" y="640.40" text-anchor="middle" class="tl">-20</text>
<text x="489.03" y="640.40" text-anchor="middle" class="tl">-10</text>
<text x="537.15" y="640.40" text-anchor="middle" class="tl">0</text>
<text x="584.27" y="640.40" text-anchor="middle" class="tl">10</text>
<text x="630.08" y="640.40" text-anchor="middle" class="tl">20</text>
<text x="676.80" y="640.40" text-anchor="middle" class="tl">30</text>
<text x="394.80" y="631.50" text-anchor="end" class="tl">10<tspan class="sup" dy="-5.6">-5</tspan></text>
<text x="394.80" y="601.65" text-anchor="end" class="tl">10<tspan class="sup" dy="-5.6">-4</tspan></text>
<text x="394.80" y="571.80" text-anchor="end" class="tl">10<tspan class="sup" dy="-5.6">-3</tspan></text>
<text x="394.80" y="541.95" text-anchor="end" class="tl">10<tspan class="sup" dy="-5.6">-2</tspan></text>
<text x="394.80" y="512.10" text-anchor="end" class="tl">10<tspan class="sup" dy="-5.6">-1</tspan></text>
<text x="394.80" y="482.25" text-anchor="end" class="tl">1</text>
<text x="394.80" y="452.40" text-anchor="end" class="tl">10</text>
<text x="394.80" y="422.55" text-anchor="end" class="tl">10<tspan class="sup" dy="-5.6">2</tspan></text>
<text x="394.80" y="392.70" text-anchor="end" class="tl">10<tspan class="sup" dy="-5.6">3</tspan></text>
<text x="394.80" y="362.85" text-anchor="end" class="tl">10<tspan class="sup" dy="-5.6">4</tspan></text>
<clipPath id="cld"><rect x="397.80" y="355.30" width="176.90" height="270.50"/></clipPath>
<clipPath id="crd"><rect x="574.70" y="355.30" width="104.60" height="270.50"/></clipPath>
<clipPath id="cfd"><rect x="397.80" y="355.30" width="281.50" height="270.50"/></clipPath>
<g clip-path="url(#cfd)">
<path d="M397.80 625.80L499.00 625.80L499.00 617.20L501.30 617.20L501.30 607.90L503.70 607.90L503.70 602.60L506.00 602.60L506.00 606.00L508.00 606.00L508.00 602.60L510.00 602.60L510.00 588.60L513.00 588.60L513.00 580.40L515.30 580.40L515.30 574.60L517.10 574.60L517.10 565.80L518.85 565.80L518.85 562.62L521.66 562.62L521.66 556.37L524.48 556.37L524.48 548.62L527.29 548.62L527.29 543.64L530.11 543.64L530.11 537.57L532.92 537.57L532.92 533.33L535.74 533.33L535.74 529.00L538.55 529.00L538.55 524.61L541.37 524.61L541.37 521.24L544.18 521.24L544.18 518.00L547.00 518.00L547.00 516.15L549.81 516.15L549.81 514.60L552.63 514.60L552.63 513.83L555.44 513.83L555.44 513.13L558.26 513.13L558.26 513.09L561.07 513.09L561.07 513.43L563.89 513.43L563.89 514.25L566.70 514.25L566.70 515.20L569.52 515.20L569.52 516.51L572.33 516.51L572.33 517.95L575.15 517.95L575.15 520.15L577.96 520.15L577.96 522.57L580.78 522.57L580.78 524.96L583.59 524.96L583.59 527.72L586.41 527.72L586.41 531.94L589.22 531.94L589.22 535.88L592.04 535.88L592.04 539.62L594.85 539.62L594.85 543.48L597.67 543.48L597.67 547.90L600.48 547.90L600.48 552.42L603.30 552.42L603.30 556.98L606.11 556.98L606.11 562.06L608.93 562.06L608.93 566.62L611.74 566.62L611.74 571.57L614.70 571.57L614.70 573.20L616.30 573.20L616.30 581.80L620.80 581.80L620.80 598.60L622.90 598.60L622.90 593.50L625.40 593.50L625.40 616.90L630.50 616.90L630.50 596.10L633.00 596.10L633.00 616.90L635.10 616.90L635.10 625.80L637.60 625.80L637.60 607.70L640.10 607.70L640.10 616.90L642.20 616.90L642.20 625.80L679.30 625.80L679.30 625.80L397.80 625.80Z" fill="url(#hatchb)" clip-path="url(#cld)"/>
<path d="M397.80 625.80L448.30 625.80L448.30 620.70L451.30 620.70L451.30 625.80L453.40 625.80L453.40 612.60L455.80 612.60L455.80 625.80L458.10 625.80L458.10 614.90L460.40 614.90L460.40 609.00L462.80 609.00L462.80 603.20L464.50 603.20L464.50 598.50L466.30 598.50L466.30 593.90L468.00 593.90L468.00 588.00L470.90 588.00L470.90 586.30L475.00 586.30L475.00 583.40L477.40 583.40L477.40 571.70L479.70 571.70L479.70 565.80L482.25 565.80L482.25 557.22L485.06 557.22L485.06 551.09L487.88 551.09L487.88 545.51L490.69 545.51L490.69 539.80L493.51 539.80L493.51 535.95L496.32 535.95L496.32 532.05L499.14 532.05L499.14 527.83L501.95 527.83L501.95 523.61L504.77 523.61L504.77 519.90L507.58 519.90L507.58 517.81L510.40 517.81L510.40 515.78L513.22 515.78L513.22 514.02L516.03 514.02L516.03 512.31L518.85 512.31L518.85 511.26L521.66 511.26L521.66 510.68L524.48 510.68L524.48 511.34L527.29 511.34L527.29 512.51L530.11 512.51L530.11 514.25L532.92 514.25L532.92 516.61L535.74 516.61L535.74 519.87L538.55 519.87L538.55 523.94L541.37 523.94L541.37 528.63L544.18 528.63L544.18 534.55L547.00 534.55L547.00 539.32L549.81 539.32L549.81 544.68L552.63 544.68L552.63 551.27L555.44 551.27L555.44 558.03L558.26 558.03L558.26 565.92L561.07 565.92L561.07 574.41L563.89 574.41L563.89 581.29L566.70 581.29L566.70 596.20L569.52 596.20L569.52 603.27L572.33 603.27L572.33 617.98L573.50 617.98L573.50 622.30L574.70 622.30L574.70 600.00L576.30 600.00L576.30 625.80L679.30 625.80L679.30 625.80L397.80 625.80Z" fill="url(#hatchr)" clip-path="url(#crd)"/>
<path d="M397.80 625.80L448.30 625.80L448.30 620.70L451.30 620.70L451.30 625.80L453.40 625.80L453.40 612.60L455.80 612.60L455.80 625.80L458.10 625.80L458.10 614.90L460.40 614.90L460.40 609.00L462.80 609.00L462.80 603.20L464.50 603.20L464.50 598.50L466.30 598.50L466.30 593.90L468.00 593.90L468.00 588.00L470.90 588.00L470.90 586.30L475.00 586.30L475.00 583.40L477.40 583.40L477.40 571.70L479.70 571.70L479.70 565.80L482.25 565.80L482.25 557.22L485.06 557.22L485.06 551.09L487.88 551.09L487.88 545.51L490.69 545.51L490.69 539.80L493.51 539.80L493.51 535.95L496.32 535.95L496.32 532.05L499.14 532.05L499.14 527.83L501.95 527.83L501.95 523.61L504.77 523.61L504.77 519.90L507.58 519.90L507.58 517.81L510.40 517.81L510.40 515.78L513.22 515.78L513.22 514.02L516.03 514.02L516.03 512.31L518.85 512.31L518.85 511.26L521.66 511.26L521.66 510.68L524.48 510.68L524.48 511.34L527.29 511.34L527.29 512.51L530.11 512.51L530.11 514.25L532.92 514.25L532.92 516.61L535.74 516.61L535.74 519.87L538.55 519.87L538.55 523.94L541.37 523.94L541.37 528.63L544.18 528.63L544.18 534.55L547.00 534.55L547.00 539.32L549.81 539.32L549.81 544.68L552.63 544.68L552.63 551.27L555.44 551.27L555.44 558.03L558.26 558.03L558.26 565.92L561.07 565.92L561.07 574.41L563.89 574.41L563.89 581.29L566.70 581.29L566.70 596.20L569.52 596.20L569.52 603.27L572.33 603.27L572.33 617.98L573.50 617.98L573.50 622.30L574.70 622.30L574.70 600.00L576.30 600.00L576.30 625.80L679.30 625.80" fill="none" stroke="#ff1a1a" stroke-width="1.75" stroke-dasharray="1.8 1.3"/>
<path d="M397.80 625.80L499.00 625.80L499.00 617.20L501.30 617.20L501.30 607.90L503.70 607.90L503.70 602.60L506.00 602.60L506.00 606.00L508.00 606.00L508.00 602.60L510.00 602.60L510.00 588.60L513.00 588.60L513.00 580.40L515.30 580.40L515.30 574.60L517.10 574.60L517.10 565.80L518.85 565.80L518.85 562.62L521.66 562.62L521.66 556.37L524.48 556.37L524.48 548.62L527.29 548.62L527.29 543.64L530.11 543.64L530.11 537.57L532.92 537.57L532.92 533.33L535.74 533.33L535.74 529.00L538.55 529.00L538.55 524.61L541.37 524.61L541.37 521.24L544.18 521.24L544.18 518.00L547.00 518.00L547.00 516.15L549.81 516.15L549.81 514.60L552.63 514.60L552.63 513.83L555.44 513.83L555.44 513.13L558.26 513.13L558.26 513.09L561.07 513.09L561.07 513.43L563.89 513.43L563.89 514.25L566.70 514.25L566.70 515.20L569.52 515.20L569.52 516.51L572.33 516.51L572.33 517.95L575.15 517.95L575.15 520.15L577.96 520.15L577.96 522.57L580.78 522.57L580.78 524.96L583.59 524.96L583.59 527.72L586.41 527.72L586.41 531.94L589.22 531.94L589.22 535.88L592.04 535.88L592.04 539.62L594.85 539.62L594.85 543.48L597.67 543.48L597.67 547.90L600.48 547.90L600.48 552.42L603.30 552.42L603.30 556.98L606.11 556.98L606.11 562.06L608.93 562.06L608.93 566.62L611.74 566.62L611.74 571.57L614.70 571.57L614.70 573.20L616.30 573.20L616.30 581.80L620.80 581.80L620.80 598.60L622.90 598.60L622.90 593.50L625.40 593.50L625.40 616.90L630.50 616.90L630.50 596.10L633.00 596.10L633.00 616.90L635.10 616.90L635.10 625.80L637.60 625.80L637.60 607.70L640.10 607.70L640.10 616.90L642.20 616.90L642.20 625.80L679.30 625.80" fill="none" stroke="#1414ff" stroke-width="1.6" stroke-linejoin="miter"/>
<path d="M521.80 510.50V625.80" stroke="#ff1a1a" stroke-width="1.6" stroke-dasharray="12.3 3.4"/>
<path d="M561.20 513.00V625.80" stroke="#1414ff" stroke-width="1.5" stroke-dasharray="12.3 3.4"/>
<path d="M574.70 625.80V510.20" stroke="#000" stroke-width="2"/>
</g>
<text class="plab" x="508.8" y="685.2">(d)</text>
<text class="ax" transform="translate(369.10 481.70) rotate(-90)">Arbitrary normalisation</text>
<text class="ax" x="676.70" y="660.60" text-anchor="middle" style="font-size:13.5px">q</text>
<path d="M673.50 650.30C674.70 648.10 676.10 648.40 677.10 649.30S679.50 650.60 680.50 648.40" stroke="#222" stroke-width="1.1" fill="none"/>
<text class="atlas" x="408.60" y="382.20">ATLAS</text>
<text x="554.00" y="382.20" class="proc">H</text>
<path d="M566.90 378.80H578.80M575.60 375.70L578.80 378.80L575.60 381.90" stroke="#1f1f86" stroke-width="1.05" fill="none"/>
<text x="582.60" y="382.20" class="proc">ZZ</text>
<text x="597.90" y="381.00" class="proc" style="font-size:11.5px">*</text>
<path d="M607.70 378.90H619.10M615.90 375.80L619.10 378.90L615.90 382.00" stroke="#1f1f86" stroke-width="1.05" fill="none"/>
<text x="622.60" y="382.20" class="proc" style="font-style:italic">4l</text>
<text x="554.60" y="396.10" class="lum">√s = 7 TeV, 4.5 fb<tspan class="lsup" dy="-3.4">-1</tspan></text><path d="M558.60 389.35h5.0" stroke="#333" stroke-width="0.65"/>
<text x="554.60" y="409.30" class="lum">√s = 8 TeV, 20.3 fb<tspan class="lsup" dy="-3.4">-1</tspan></text><path d="M558.60 402.55h5.0" stroke="#333" stroke-width="0.65"/>
<text x="554.00" y="429.90" class="proc">H</text>
<path d="M566.60 426.60H579.00M575.80 423.50L579.00 426.60L575.80 429.70" stroke="#1f1f86" stroke-width="1.05" fill="none"/>
<text x="583.00" y="429.90" class="proc">WW</text>
<text x="606.20" y="429.00" class="proc" style="font-size:11.5px">*</text>
<path d="M615.10 426.70H626.80M623.60 423.60L626.80 426.70L623.60 429.80" stroke="#1f1f86" stroke-width="1.05" fill="none"/>
<text x="631.30" y="429.90" class="greek">eνμν</text>
<text x="554.60" y="442.80" class="lum">√s = 8 TeV, 20.3 fb<tspan class="lsup" dy="-3.4">-1</tspan></text><path d="M558.60 436.05h5.0" stroke="#333" stroke-width="0.65"/>
<text x="554.00" y="461.40" class="proc">H</text>
<path d="M567.20 458.10H578.60M575.40 455.00L578.60 458.10L575.40 461.20" stroke="#1f1f86" stroke-width="1.05" fill="none"/>
<text x="589.60" y="461.40" class="greek2">γ</text>
<text x="607.10" y="461.40" class="greek2">γ</text>
<text x="554.60" y="474.80" class="lum">√s = 7 TeV, 4.5 fb<tspan class="lsup" dy="-3.4">-1</tspan></text><path d="M558.60 468.05h5.0" stroke="#333" stroke-width="0.65"/>
<text x="554.60" y="487.60" class="lum">√s = 8 TeV, 20.3 fb<tspan class="lsup" dy="-3.4">-1</tspan></text><path d="M558.60 480.85h5.0" stroke="#333" stroke-width="0.65"/>
<path d="M409.2 407.10H430.6" stroke="#000" stroke-width="1.8"/>
<path d="M409.2 421.50H430.6" stroke="#2020ff" stroke-width="1.8"/>
<path d="M409.2 436.60H430.6" stroke="#ff1414" stroke-width="1.7" stroke-dasharray="2.1 1.7"/>
<text x="435.60" y="410.40" class="legb">Data</text>
<text x="435.60" y="425.20" class="legb">0<tspan class="legbs" dy="-3.5">+</tspan><tspan dy="3.5"> SM</tspan></text>
<text x="435.60" y="440.20" class="legb">2<tspan class="legbs" dy="-4.5">+</tspan><tspan class="small" dx="3" dy="4.5" style="font-size:8.6px">(κ<tspan class="ssub" dy="2">q</tspan><tspan dy="-2">=2κ</tspan><tspan class="ssub" dy="2">g</tspan><tspan dy="-2">, p</tspan><tspan class="ssub" dy="2">T</tspan><tspan dy="-2">&lt;125 GeV)</tspan></tspan></text>
</svg></body></html>
